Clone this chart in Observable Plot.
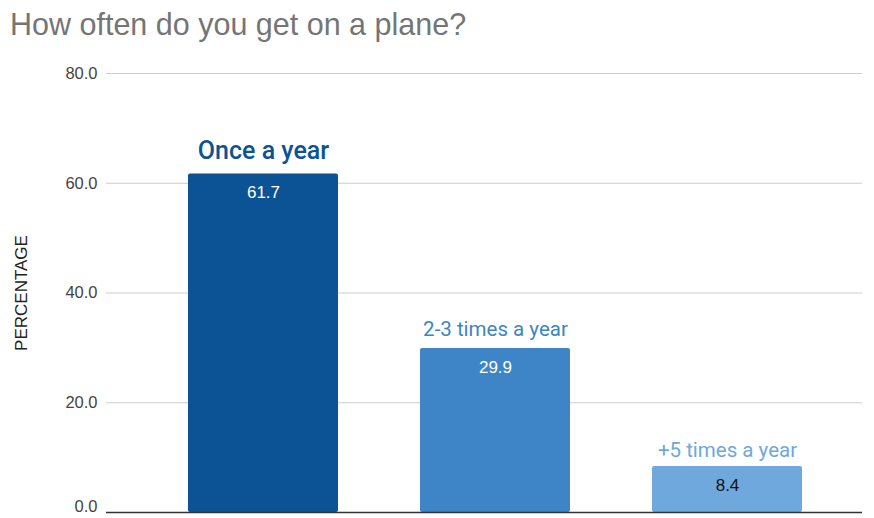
<!DOCTYPE html>
<html><head><meta charset="utf-8">
<script src="https://cdn.jsdelivr.net/npm/d3@7"></script>
<script src="https://cdn.jsdelivr.net/npm/@observablehq/plot@0.6"></script>
<style>
body{margin:0;background:#fff;overflow:hidden;}
#title{height:46px;box-sizing:border-box;padding:6px 0 0 10px;font:30.5px "Liberation Sans",Arial,sans-serif;color:#757575;line-height:36px;white-space:nowrap;}
</style></head>
<body>
<div id="title">How often do you get on a plane?</div>
<div id="chart"></div>
<script>
const categories = ["Once a year", "2-3 times a year", "+5 times a year"];
const values = [61.7, 29.9, 8.4];
const yTicks = [0, 20, 40, 60, 80];
const gridTicks = [20, 40, 60, 80];

const colors = ["#0b5394", "#3d85c6", "#6fa8dc"];
const valueColors = ["#ffffff", "#ffffff", "#111111"];

const data = categories.map((c, i) => ({category: c, value: values[i], vcolor: valueColors[i], ccolor: colors[i]}));

const chart = Plot.plot({
  width: 874,
  height: 472,
  marginTop: 27,
  marginBottom: 6,
  marginLeft: 106,
  marginRight: 12,
  x: {domain: categories, range: [147, 843], paddingInner: 0.353, paddingOuter: 0.1765, axis: null},
  y: {domain: [0, 80]},
  style: {fontFamily: "'Liberation Sans', Arial, sans-serif", fontSize: "17px", color: "#444"},
  marks: [
    Plot.ruleY(gridTicks, {stroke: "#cccccc", strokeWidth: 1}),
    Plot.barY(data, {x: "category", y: "value", fill: "ccolor", rx: 2}),
    Plot.ruleY([0], {stroke: "#333333", strokeWidth: 1.3}),
    Plot.axisY({ticks: yTicks.filter(t => t > 0), tickFormat: d3.format(".1f"), tickSize: 0, tickPadding: 9, fontSize: 16.5, label: null}),
    Plot.axisY({ticks: yTicks.filter(t => t === 0), tickFormat: d3.format(".1f"), tickSize: 0, tickPadding: 9, fontSize: 16.5, label: null, dy: -6}),
    Plot.axisY({ticks: [], tickSize: 0, label: "PERCENTAGE", labelAnchor: "center", labelOffset: 92, labelArrow: "none", fontSize: 17, color: "#222"}),
    Plot.text(data, {x: "category", y: "value", text: d => d.value.toFixed(1), fill: "vcolor", dy: 19, fontSize: 17}),
    Plot.text(data.filter((d, i) => i === 0), {x: "category", y: "value", text: "category", fill: "ccolor", lineAnchor: "bottom", dy: -15, fontSize: 25, fontFamily: "Roboto, sans-serif", fontWeight: 500}),
    Plot.text(data.filter((d, i) => i === 1), {x: "category", y: "value", text: "category", fill: "ccolor", lineAnchor: "bottom", dy: -12, fontSize: 20.5, fontFamily: "Roboto, sans-serif"}),
    Plot.text(data.filter((d, i) => i === 2), {x: "category", y: "value", text: "category", fill: "ccolor", lineAnchor: "bottom", dy: -9, fontSize: 20.5, fontFamily: "Roboto, sans-serif"})
  ]
});
document.getElementById("chart").appendChild(chart);
</script>
</body></html>
